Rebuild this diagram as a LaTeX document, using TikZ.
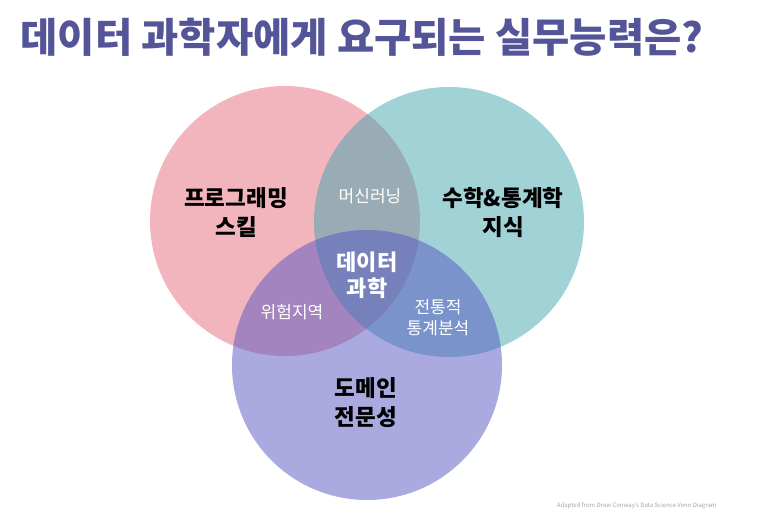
\documentclass[tikz,border=0pt]{standalone}
\usepackage{fontspec}
\setmainfont{Noto Sans CJK KR}
\usetikzlibrary{positioning}

\definecolor{prog}{RGB}{229,107,125}
\definecolor{math}{RGB}{65,165,173}
\definecolor{domain}{RGB}{85,85,193}
\definecolor{titlecol}{RGB}{84,84,152}

\begin{document}
\begin{tikzpicture}[x=1pt,y=-1pt,
	set/.style={circle, minimum size=270pt, inner sep=0pt, fill opacity=0.5, text opacity=1},
	big/.style={align=center, font=\fontsize{22.5}{29}\selectfont\bfseries},
	small/.style={align=center, text=white, font=\fontsize{17}{21}\selectfont}]
	\useasboundingbox (0,0) rectangle (773,525);
	\node[anchor=west, text=titlecol, font=\fontsize{40.5}{44}\selectfont\bfseries] (title) at (17,37) {데이터 과학자에게 요구되는 실무능력은?};
	% three sets
	\node[set, fill=prog] (p) at (285,221) {};
	\node[set, fill=math] (m) at (449,222) {};
	\node[set, fill=domain] (d) at (367,365) {};
	% labels
	\node[big] (pl) at (236,213) {프로그래밍\\스킬};
	\node[big] (ml) at (503,213) {수학\&통계학\\지식};
	\node[big] (dl) at (366,403) {도메인\\전문성};
	\node[small] (ai) at (370,196) {머신러닝};
	\node[small] (dz) at (292,312) {위험지역};
	\node[small] (ts) at (438,318) {전통적\\통계분석};
	\node[big, text=white, font=\fontsize{22}{26}\selectfont\bfseries] (ds) at (367,275) {데이터\\과학};
	\node[anchor=east, text=gray!70, font=\fontsize{6}{7}\selectfont] (src) at (720,506) {Adapted from Drew Conway's Data Science Venn Diagram};
\end{tikzpicture}
\end{document}
